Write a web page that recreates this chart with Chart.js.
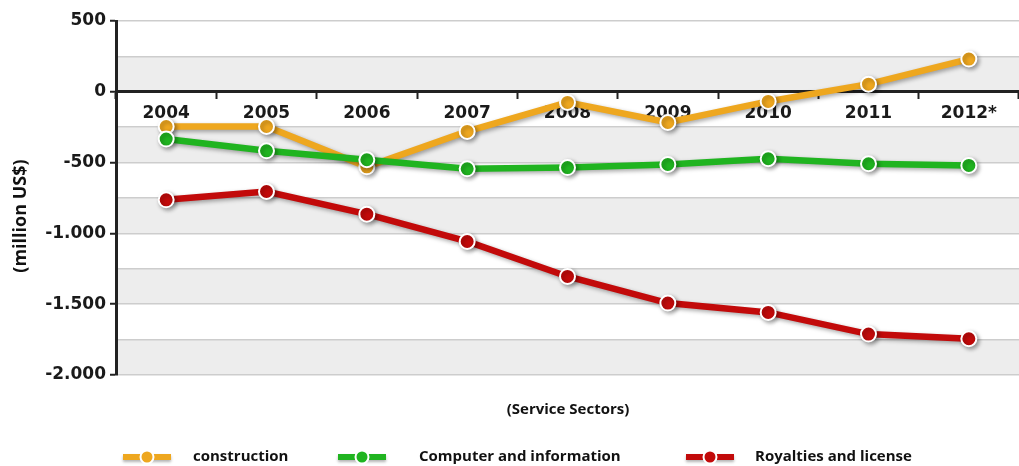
<!DOCTYPE html>
<html>
<head>
<meta charset="utf-8">
<script src="https://cdn.jsdelivr.net/npm/chart.js@4/dist/chart.umd.min.js"></script>
<style>
  html, body { margin: 0; padding: 0; background: #fff; }
  #wrap { width: 1019px; height: 466px; position: relative; }
</style>
</head>
<body>
<div id="wrap"><canvas id="chart" width="1019" height="466"></canvas></div>
<script>
// years on the category axis
const years = ['2004', '2005', '2006', '2007', '2008', '2009', '2010', '2011', '2012*'];

// balance per service sector, million US$
const construction = [-245, -245, -530, -280, -75, -217, -68, 54, 231];
const computerInfo = [-334, -417, -480, -544, -535, -513, -473, -508, -520];
const royalties = [-763, -704, -864, -1057, -1304, -1492, -1558, -1711, -1744];

const yMin = -2000;
const yMax = 500;
const yStep = 250;   // grid spacing, labels every second line

const seriesNames = ['construction', 'Computer and information', 'Royalties and license'];
const seriesColors = ['#eea71f', '#20b420', '#c20a0a'];

const textFont = '"Open Sans", Lato, sans-serif';
const numFont = '"DejaVu Sans", sans-serif';

const fmt = v => {
  if (v === 0) return '0';
  const s = Math.abs(v).toString().replace(/\B(?=(\d{3})+(?!\d))/g, '.');
  return (v < 0 ? '-' : '') + s;
};

// alternating grey bands behind the grid
const bandPlugin = {
  id: 'bands',
  beforeDraw(chart) {
    const { ctx, chartArea: a, scales: { y } } = chart;
    ctx.save();
    ctx.fillStyle = '#ededed';
    for (let v = yMin; v < yMax; v += 2 * yStep) {
      const top = y.getPixelForValue(v + yStep);
      const bot = y.getPixelForValue(v);
      ctx.fillRect(a.left, top, a.right - a.left, bot - top);
    }
    ctx.restore();
  }
};

// soft drop shadow under each line
const shadowPlugin = {
  id: 'lineShadow',
  beforeDatasetDraw(chart) {
    const ctx = chart.ctx;
    ctx.save();
    ctx.shadowColor = 'rgba(0,0,0,0.35)';
    ctx.shadowBlur = 4;
    ctx.shadowOffsetX = 2;
    ctx.shadowOffsetY = 2;
  },
  afterDatasetDraw(chart) {
    chart.ctx.restore();
  }
};

// axis titles + legend row
const footerPlugin = {
  id: 'footer',
  afterDraw(chart) {
    const { ctx } = chart;
    ctx.save();
    ctx.fillStyle = '#111';
    ctx.textBaseline = 'middle';

    ctx.save();
    ctx.translate(21, 216);
    ctx.rotate(-Math.PI / 2);
    ctx.font = 'bold 18px ' + textFont;
    ctx.textAlign = 'center';
    ctx.fillText('(million US$)', 0, 0);
    ctx.restore();

    ctx.font = 'bold 15px ' + textFont;
    ctx.textAlign = 'center';
    ctx.fillText('(Service Sectors)', 568, 410);

    const symX = [147, 362, 710];
    const txtX = [193, 419, 755];
    const yRow = 457;
    chart.data.datasets.forEach((ds, i) => {
      ctx.save();
      ctx.shadowColor = 'rgba(0,0,0,0.3)';
      ctx.shadowBlur = 3;
      ctx.shadowOffsetY = 2;
      ctx.fillStyle = ds.borderColor;
      ctx.fillRect(symX[i] - 24, yRow - 3, 48, 6);
      ctx.restore();
      ctx.beginPath();
      ctx.arc(symX[i], yRow, 6.5, 0, Math.PI * 2);
      ctx.fillStyle = ds.borderColor;
      ctx.fill();
      ctx.lineWidth = 2;
      ctx.strokeStyle = '#fff';
      ctx.stroke();
      ctx.fillStyle = '#111';
      ctx.textAlign = 'left';
      ctx.fillText(ds.label, txtX[i], yRow);
    });
    ctx.restore();
  }
};

function makeSet(label, data, color, order) {
  return {
    label, data, order,
    borderColor: color,
    backgroundColor: color,
    borderWidth: 6.5,
    pointRadius: 7.5,
    pointBorderWidth: 2,
    pointBorderColor: '#fff',
    pointBackgroundColor: color,
    tension: 0,
    fill: false
  };
}

new Chart(document.getElementById('chart'), {
  type: 'line',
  data: {
    labels: years,
    datasets: [
      makeSet(seriesNames[0], construction, seriesColors[0], 1),
      makeSet(seriesNames[1], computerInfo, seriesColors[1], 0),
      makeSet(seriesNames[2], royalties, seriesColors[2], 2)
    ]
  },
  options: {
    responsive: false,
    animation: false,
    layout: { autoPadding: false, padding: { left: 0, top: 21, right: 0, bottom: 91 } },
    plugins: {
      legend: { display: false },
      tooltip: { enabled: false }
    },
    scales: {
      x: {
        type: 'category',
        position: { y: 0 },
        offset: true,
        grid: {
          offset: true,
          drawOnChartArea: false,
          drawTicks: true,
          tickLength: 6,
          tickWidth: 2,
          tickColor: '#222'
        },
        border: { display: true, color: '#222', width: 3 },
        ticks: {
          color: '#1a1a1a',
          padding: 6,
          maxRotation: 0,
          autoSkip: false,
          font: { family: numFont, weight: 'bold', size: 17 }
        }
      },
      y: {
        min: yMin,
        max: yMax,
        afterFit(scale) { scale.width = 116; },
        grid: {
          color: '#cdcdcd',
          lineWidth: 1.5,
          drawTicks: true,
          tickLength: 6,
          tickWidth: 2,
          tickColor: ctx => (ctx.tick && ctx.tick.value % 500 === 0) ? '#222' : 'rgba(0,0,0,0)'
        },
        border: { display: true, color: '#222', width: 3 },
        ticks: {
          stepSize: yStep,
          color: '#1a1a1a',
          padding: 4,
          font: { family: numFont, weight: 'bold', size: 17 },
          callback: v => (v % 500 === 0 ? fmt(v) : '')
        },
        title: { display: false }
      }
    }
  },
  plugins: [bandPlugin, shadowPlugin, footerPlugin]
});
</script>
</body>
</html>
